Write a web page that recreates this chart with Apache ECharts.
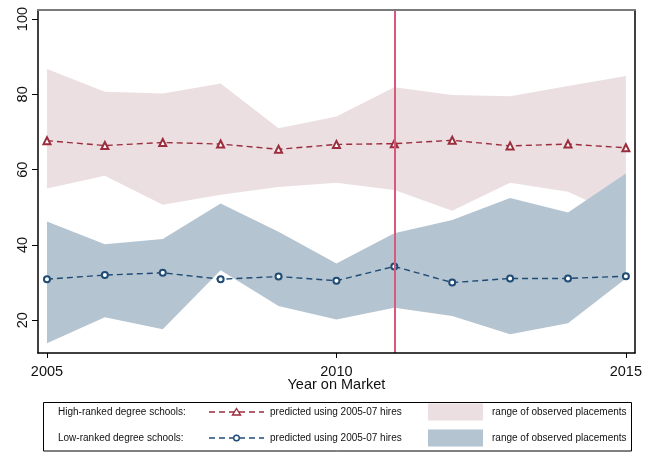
<!DOCTYPE html>
<html>
<head>
<meta charset="utf-8">
<script src="https://cdn.jsdelivr.net/npm/echarts@6/dist/echarts.min.js"></script>
<style>
  html, body { margin: 0; padding: 0; background: #fff; }
  #chart { width: 645px; height: 452px; }
</style>
</head>
<body>
<div id="chart"></div>
<script>
// Market years
const years = [2005, 2006, 2007, 2008, 2009, 2010, 2011, 2012, 2013, 2014, 2015];

// High-ranked degree schools
const hiPredicted = [67.7, 66.4, 67.2, 66.8, 65.4, 66.7, 66.9, 67.8, 66.3, 66.8, 65.8];
const hiUpper     = [86.7, 80.7, 80.2, 82.9, 71.0, 74.1, 81.9, 79.8, 79.5, 82.2, 84.9];
const hiLower     = [55.0, 58.4, 50.7, 53.3, 55.4, 56.5, 54.6, 49.1, 56.5, 54.1, 47.1];

// Low-ranked degree schools
const loPredicted = [30.9, 32.0, 32.6, 30.9, 31.6, 30.5, 34.3, 30.0, 31.1, 31.1, 31.7];
const loUpper     = [46.2, 40.2, 41.6, 51.0, 43.5, 35.1, 43.1, 46.6, 52.5, 48.6, 59.0];
const loLower     = [13.9, 20.8, 17.6, 33.3, 23.8, 20.2, 23.3, 21.1, 16.3, 19.2, 31.1];

// Axis ticks and reference year
const xTicks = [2005, 2010, 2015];
const yTicks = [20, 40, 60, 80, 100];
const refYear = 2011;

const FONT = '"Liberation Sans", Arial, Helvetica, sans-serif';
const RED = '#9b2d3c';
const BLUE = '#1f4b75';
const PINK_BAND = '#ebdfe1';
const BLUE_BAND = '#b4c4d1';

// Filled polygon between an upper and a lower boundary
function bandSeries(upper, lower, color, blend) {
  return {
    type: 'custom',
    silent: true,
    clip: true,
    data: years.map((y, i) => [y, upper[i], lower[i]]),
    encode: { x: 0, y: [1, 2] },
    renderItem: function (params, api) {
      if (params.dataIndex !== 0) return null;
      const pts = [];
      for (let i = 0; i < years.length; i++) pts.push(api.coord([years[i], upper[i]]));
      for (let i = years.length - 1; i >= 0; i--) pts.push(api.coord([years[i], lower[i]]));
      const style = { fill: color, stroke: null };
      if (blend) style.blend = blend;
      return { type: 'polygon', shape: { points: pts }, style: style };
    },
    z: 1
  };
}

function lineSeries(values, color, symbol, size) {
  return {
    type: 'line',
    data: years.map((y, i) => [y, values[i]]),
    symbol: symbol,
    symbolSize: size,
    showAllSymbol: true,
    lineStyle: { color: color, width: 1.4, type: [6, 4] },
    itemStyle: { color: color, borderColor: color, borderWidth: 1.4 },
    z: 5,
    animation: false
  };
}

const chart = echarts.init(document.getElementById('chart'), null, { renderer: 'canvas' });

const legendRow1 = 412, legendRow2 = 438;
const legendGraphics = [
  { type: 'rect', shape: { x: 43.5, y: 402.5, width: 588, height: 48.5 },
    style: { fill: '#fff', stroke: '#000', lineWidth: 1 } },
  { type: 'text', x: 58, y: legendRow1, style: { text: 'High-ranked degree schools:', font: '10px ' + FONT, fill: '#111', verticalAlign: 'middle' } },
  { type: 'text', x: 58, y: legendRow2, style: { text: 'Low-ranked degree schools:', font: '10px ' + FONT, fill: '#111', verticalAlign: 'middle' } },
  { type: 'line', shape: { x1: 209, y1: legendRow1, x2: 264, y2: legendRow1 }, style: { stroke: RED, lineWidth: 1.4, lineDash: [6, 4] } },
  { type: 'line', shape: { x1: 209, y1: legendRow2, x2: 264, y2: legendRow2 }, style: { stroke: BLUE, lineWidth: 1.4, lineDash: [6, 4] } },
  { type: 'polygon', shape: { points: [[236.5, legendRow1 - 3.5], [240.5, legendRow1 + 3], [232.5, legendRow1 + 3]] }, style: { fill: '#fff', stroke: RED, lineWidth: 1.4 } },
  { type: 'circle', shape: { cx: 236.5, cy: legendRow2, r: 2.8 }, style: { fill: '#fff', stroke: BLUE, lineWidth: 1.4 } },
  { type: 'text', x: 270, y: legendRow1, style: { text: 'predicted using 2005-07 hires', font: '10px ' + FONT, fill: '#111', verticalAlign: 'middle' } },
  { type: 'text', x: 270, y: legendRow2, style: { text: 'predicted using 2005-07 hires', font: '10px ' + FONT, fill: '#111', verticalAlign: 'middle' } },
  { type: 'rect', shape: { x: 428, y: legendRow1 - 8.5, width: 55, height: 17 }, style: { fill: PINK_BAND } },
  { type: 'rect', shape: { x: 428, y: legendRow2 - 8.5, width: 55, height: 17 }, style: { fill: BLUE_BAND } },
  { type: 'text', x: 492, y: legendRow1, style: { text: 'range of observed placements', font: '10px ' + FONT, fill: '#111', verticalAlign: 'middle' } },
  { type: 'text', x: 492, y: legendRow2, style: { text: 'range of observed placements', font: '10px ' + FONT, fill: '#111', verticalAlign: 'middle' } }
];

const option = {
  animation: false,
  backgroundColor: '#fff',
  textStyle: { fontFamily: FONT },
  grid: { left: 38, right: 8, top: 10, bottom: 99, containLabel: false },
  xAxis: [
    {
      type: 'value',
      min: 2004.845,
      max: 2015.155,
      name: 'Year on Market',
      nameLocation: 'middle',
      nameGap: 24,
      nameMoveOverlap: false,
      nameTextStyle: { fontSize: 14.5, color: '#111', fontFamily: FONT },
      splitLine: { show: false },
      axisLine: { show: true, lineStyle: { color: '#000', width: 1.5 } },
      axisTick: { show: true, length: 5, customValues: xTicks, lineStyle: { color: '#000', width: 1 } },
      axisLabel: { show: true, customValues: xTicks, margin: 11, fontSize: 14.5, color: '#111', fontFamily: FONT,
                   formatter: (v) => String(Math.round(v)) },
      z: 10
    },
    {
      type: 'value',
      position: 'top',
      min: 2004.845,
      max: 2015.155,
      splitLine: { show: false },
      axisLine: { show: true, lineStyle: { color: '#7a7a7a', width: 2 } },
      axisTick: { show: false },
      axisLabel: { show: false },
      z: 10
    }
  ],
  yAxis: [
    {
      type: 'value',
      min: 11.3,
      max: 102.4,
      splitLine: { show: false },
      axisLine: { show: true, lineStyle: { color: '#000', width: 1.5 } },
      axisTick: { show: true, length: 6, customValues: yTicks, lineStyle: { color: '#000', width: 1 } },
      axisLabel: { show: true, customValues: yTicks, rotate: 90, margin: 8, fontSize: 14.5, color: '#111', fontFamily: FONT,
                   formatter: (v) => String(Math.round(v)) },
      z: 10
    },
    {
      type: 'value',
      position: 'right',
      min: 11.3,
      max: 102.4,
      splitLine: { show: false },
      axisLine: { show: true, lineStyle: { color: '#000', width: 1.5 } },
      axisTick: { show: false },
      axisLabel: { show: false },
      z: 10
    }
  ],
  series: [
    bandSeries(hiUpper, hiLower, PINK_BAND, null),
    bandSeries(loUpper, loLower, BLUE_BAND, 'multiply'),
    Object.assign(lineSeries(hiPredicted, RED, 'emptyTriangle', 7), {
      markLine: {
        silent: true,
        symbol: ['none', 'none'],
        label: { show: false },
        lineStyle: { color: '#d65a7b', width: 2, type: 'solid' },
        data: [{ xAxis: refYear }],
        z: 6
      }
    }),
    lineSeries(loPredicted, BLUE, 'emptyCircle', 6)
  ],
  graphic: legendGraphics
};

chart.setOption(option);
</script>
</body>
</html>
